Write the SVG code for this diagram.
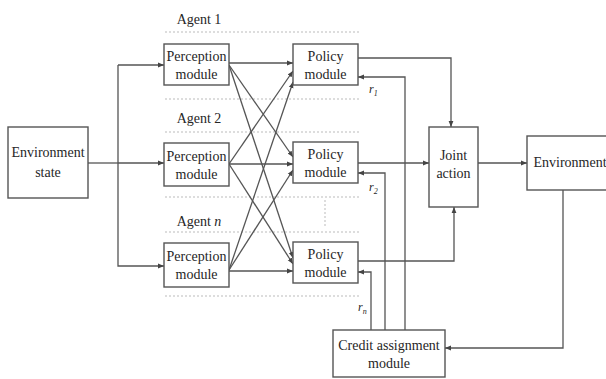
<svg xmlns="http://www.w3.org/2000/svg" width="606" height="379" viewBox="0 0 606 379">
<defs>
<marker id="ah" viewBox="0 0 10 10" refX="10" refY="5" markerWidth="6" markerHeight="6" orient="auto" markerUnits="userSpaceOnUse">
<path d="M0,1 L10,5 L0,9 z" fill="#444"/>
</marker>
<style>
.box{fill:#fff;stroke:#555;stroke-width:1.4}
.t{font-family:"Liberation Serif","Times New Roman",serif;font-size:14px;fill:#262626;text-anchor:middle}
.c{fill:none;stroke:#555;stroke-width:1.3}
.a{marker-end:url(#ah)}
.dot{stroke:#bbb;stroke-width:1;stroke-dasharray:2,2;fill:none}
.lbl{font-family:"Liberation Serif","Times New Roman",serif;font-size:12px;font-style:italic;fill:#262626}
</style>
</defs>
<rect width="606" height="379" fill="#fff"/>

<g id="agent-frames">
<line class="dot" x1="165" y1="32" x2="360" y2="32"/>
<line class="dot" x1="165" y1="99" x2="360" y2="99"/>
<line class="dot" x1="165" y1="132" x2="360" y2="132"/>
<line class="dot" x1="165" y1="197" x2="360" y2="197"/>
<line class="dot" x1="165" y1="232" x2="360" y2="232"/>
<line class="dot" x1="165" y1="296" x2="360" y2="296"/>
<line class="dot" x1="325" y1="200" x2="325" y2="228"/>
</g>

<g id="connectors">
<path class="c" d="M88,163 H118"/>
<path class="c a" d="M118,65 V266 H164"/>
<path class="c a" d="M118,65 H164"/>
<path class="c a" d="M118,163 H164"/>
<path class="c a" d="M229,63 H293"/>
<path class="c a" d="M229,164 H293"/>
<path class="c a" d="M229,271 H293"/>
<path class="c a" d="M229,65 L293,157"/>
<path class="c a" d="M229,65 L293,258"/>
<path class="c a" d="M229,164 L293,71"/>
<path class="c a" d="M229,164 L293,264"/>
<path class="c a" d="M229,270 L293,82"/>
<path class="c a" d="M229,270 L293,170"/>
<path class="c a" d="M358,58 H451 V127"/>
<path class="c a" d="M358,163 H429"/>
<path class="c a" d="M358,261 H454 V207"/>
<path class="c a" d="M478,163 H527"/>
<path class="c a" d="M563,190 V348 H445"/>
<path class="c a" d="M405,330 V77 H358"/>
<path class="c a" d="M385,330 V173 H358"/>
<path class="c a" d="M371,330 V272 H358"/>
</g>

<g id="agent-labels">
<text class="t" x="199" y="24">Agent 1</text>
<text class="t" x="199" y="123">Agent 2</text>
<text class="t" x="199" y="226">Agent <tspan font-style="italic">n</tspan></text>
</g>

<g id="env-state">
<rect class="box" x="8" y="127" width="80" height="71"/>
<text class="t" x="48" y="157">Environment</text>
<text class="t" x="48" y="177">state</text>
</g>

<g id="perception-1">
<rect class="box" x="164" y="44" width="65" height="41"/>
<text class="t" x="196.5" y="61">Perception</text>
<text class="t" x="196.5" y="79">module</text>
</g>
<g id="perception-2">
<rect class="box" x="164" y="143" width="65" height="43"/>
<text class="t" x="196.5" y="161">Perception</text>
<text class="t" x="196.5" y="179">module</text>
</g>
<g id="perception-n">
<rect class="box" x="164" y="243" width="65" height="44"/>
<text class="t" x="196.5" y="261">Perception</text>
<text class="t" x="196.5" y="279">module</text>
</g>

<g id="policy-1">
<rect class="box" x="293" y="44" width="65" height="41"/>
<text class="t" x="325.5" y="61">Policy</text>
<text class="t" x="325.5" y="79">module</text>
</g>
<g id="policy-2">
<rect class="box" x="293" y="142" width="65" height="41"/>
<text class="t" x="325.5" y="159">Policy</text>
<text class="t" x="325.5" y="177">module</text>
</g>
<g id="policy-n">
<rect class="box" x="293" y="242" width="65" height="41"/>
<text class="t" x="325.5" y="259">Policy</text>
<text class="t" x="325.5" y="277">module</text>
</g>

<g id="joint-action">
<rect class="box" x="429" y="127" width="49" height="80"/>
<text class="t" x="453.5" y="160">Joint</text>
<text class="t" x="453.5" y="178">action</text>
</g>

<g id="environment">
<rect class="box" x="527" y="136" width="82" height="54"/>
<text class="t" x="570" y="167">Environment</text>
</g>

<g id="credit">
<rect class="box" x="333" y="330" width="112" height="47"/>
<text class="t" x="389" y="350">Credit assignment</text>
<text class="t" x="389" y="368">module</text>
</g>

<g id="reward-labels">
<text class="lbl" x="369" y="93">r<tspan font-size="8" dy="3">1</tspan></text>
<text class="lbl" x="369" y="191">r<tspan font-size="8" dy="3">2</tspan></text>
<text class="lbl" x="358" y="311">r<tspan font-size="8" dy="3">n</tspan></text>
</g>
</svg>
